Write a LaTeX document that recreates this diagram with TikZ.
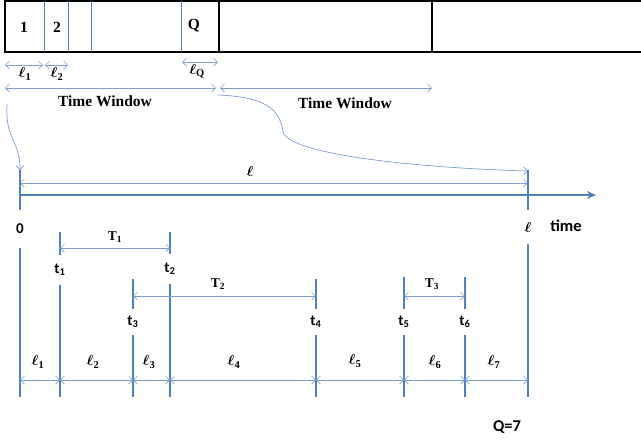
\documentclass[tikz,border=0pt]{standalone}
\usepackage{amsmath,amssymb,bm}
\usepackage{fontspec}
\setmainfont{Liberation Serif}
\newfontfamily\calfont{Carlito}
\usetikzlibrary{arrows.meta}
\definecolor{lineblue}{RGB}{79,129,189}
\definecolor{arrowblue}{RGB}{125,160,208}

\begin{document}
\begin{tikzpicture}[x=1pt,y=-1pt,
    tickline/.style={lineblue,line width=1.1pt},
    dimarrow/.style={arrowblue,line width=0.7pt,{Straight Barb[length=4pt,width=8pt]}-{Straight Barb[length=4pt,width=8pt]}},
    bendarrow/.style={arrowblue,line width=0.7pt,-{Straight Barb[length=4pt,width=8pt]}},
    serlbl/.style={font=\fontsize{15.5}{17}\selectfont\bfseries,inner sep=1pt},
    callbl/.style={font=\fontsize{15}{17}\selectfont\calfont\bfseries,inner sep=0pt},
    ellbl/.style={font=\fontsize{15}{17}\selectfont,inner sep=1pt}]
    \useasboundingbox (0,0) rectangle (641,440);

    % slot box on top
    \draw[line width=1.3pt] (650,1) -- (5,1) -- (5,52) -- (650,52);
    \draw[line width=1.3pt] (219,1) -- (219,52);
    \draw[line width=1.3pt] (432,1) -- (432,52);
    \draw[tickline,line width=0.9pt] (44,1) -- (44,52);
    \draw[tickline,line width=0.9pt] (68,1) -- (68,52);
    \draw[tickline,line width=0.9pt] (91,1) -- (91,52);
    \draw[tickline,line width=0.9pt] (181,1) -- (181,52);
    \node[serlbl] (s1) at (24,27) {1};
    \node[serlbl] (s2) at (57,27) {2};
    \node[serlbl] (sQ) at (194,26) {Q};

    % slot lengths
    \coordinate (a0) at (5,65);
    \coordinate (a1) at (43,65);
    \coordinate (a2) at (45,65);
    \coordinate (a3) at (68,65);
    \coordinate (aQ) at (182,62);
    \coordinate (aE) at (218,62);
    \draw[dimarrow] (a0) -- (a1);
    \draw[dimarrow] (a2) -- (a3);
    \draw[dimarrow] (aQ) -- (aE);
    \node[ellbl] (ls1) at (25,74) {$\bm{\ell}_{\mathbf{1}}$};
    \node[ellbl] (ls2) at (57,74) {$\bm{\ell}_{\mathbf{2}}$};
    \node[ellbl] (lsQ) at (197,71) {$\bm{\ell}_{\mathbf{Q}}$};

    % time windows
    \coordinate (w0) at (5,88);
    \coordinate (w1) at (216,88);
    \coordinate (w2) at (220,88);
    \coordinate (w3) at (432,88);
    \draw[dimarrow] (w0) -- (w1);
    \draw[dimarrow] (w2) -- (w3);
    \node[serlbl] (tw1) at (105,101) {Time Window};
    \node[serlbl] (tw2) at (345,103) {Time Window};

    % bent arrows to the axis
    \coordinate (c0) at (7,104);
    \coordinate (c1) at (20,170);
    \coordinate (c2) at (218,95);
    \coordinate (c3) at (528,171);
    \draw[bendarrow] (c0) .. controls (5,140) and (20,140) .. (c1);
    \draw[bendarrow] (c2) .. controls (270,97) and (280,112) .. (283,132)
        .. controls (290,155) and (420,168) .. (c3);

    % length of the whole window
    \coordinate (L0) at (20,183);
    \coordinate (L1) at (528,183);
    \draw[dimarrow] (L0) -- (L1);
    \node[ellbl] (lw) at (250,171) {$\bm{\ell}$};

    % time axis
    \coordinate (O) at (20,195);
    \coordinate (X) at (596,195);
    \draw[lineblue,line width=2pt,-{Stealth[length=9pt,width=8pt]}] (O) -- (X);
    \node[callbl,font=\fontsize{16.5}{18}\selectfont\calfont\bfseries] (tm) at (566,226) {time};

    % ticks
    \node[callbl,minimum height=38pt] (n0) at (20,229) {0};
    \node[ellbl,minimum height=33pt] (nl) at (528,227) {$\bm{\ell}$};
    \draw[tickline] (20,170) -- (n0) -- (20,397);
    \draw[tickline] (528,170) -- (nl) -- (528,397);
    \node[callbl,minimum height=30pt] (t1) at (60,270) {t\textsubscript{1}};
    \node[callbl,minimum height=30pt] (t2) at (170,269) {t\textsubscript{2}};
    \node[callbl,minimum height=26pt] (t3) at (133,322) {t\textsubscript{3}};
    \node[callbl,minimum height=26pt] (t4) at (316,322) {t\textsubscript{4}};
    \node[callbl,minimum height=26pt] (t5) at (404,322) {t\textsubscript{5}};
    \node[callbl,minimum height=26pt] (t6) at (465,322) {t\textsubscript{6}};
    \draw[tickline] (60,232) -- (t1) -- (60,397);
    \draw[tickline] (170,232) -- (t2) -- (170,397);
    \draw[tickline] (133,279) -- (t3) -- (133,397);
    \draw[tickline] (316,279) -- (t4) -- (316,397);
    \draw[tickline] (404,277) -- (t5) -- (404,397);
    \draw[tickline] (465,277) -- (t6) -- (465,397);

    % service times
    \draw[dimarrow] (60,248) -- (170,248);
    \draw[dimarrow] (133,296) -- (316,296);
    \draw[dimarrow] (404,296) -- (465,296);
    \node[serlbl,font=\fontsize{13.5}{15}\selectfont\bfseries] (T1) at (115,237) {T\textsubscript{1}};
    \node[serlbl,font=\fontsize{13.5}{15}\selectfont\bfseries] (T2) at (218,284) {T\textsubscript{2}};
    \node[serlbl,font=\fontsize{13.5}{15}\selectfont\bfseries] (T3) at (432,284) {T\textsubscript{3}};

    % gaps on the axis
    \coordinate (b0) at (20,380);
    \coordinate (b1) at (60,380);
    \coordinate (b2) at (133,380);
    \coordinate (b3) at (170,380);
    \coordinate (b4) at (316,380);
    \coordinate (b5) at (404,380);
    \coordinate (b6) at (465,380);
    \coordinate (b7) at (528,380);
    \draw[dimarrow] (b0) -- (b1);
    \draw[dimarrow] (b1) -- (b2);
    \draw[dimarrow] (b2) -- (b3);
    \draw[dimarrow] (b3) -- (b4);
    \draw[dimarrow] (b4) -- (b5);
    \draw[dimarrow] (b5) -- (b6);
    \draw[dimarrow] (b6) -- (b7);
    \node[ellbl] (l1) at (38,362) {$\bm{\ell}_{\mathbf{1}}$};
    \node[ellbl] (l2) at (93,362) {$\bm{\ell}_{\mathbf{2}}$};
    \node[ellbl] (l3) at (149,362) {$\bm{\ell}_{\mathbf{3}}$};
    \node[ellbl] (l4) at (234,362) {$\bm{\ell}_{\mathbf{4}}$};
    \node[ellbl] (l5) at (355,361) {$\bm{\ell}_{\mathbf{5}}$};
    \node[ellbl] (l6) at (435,362) {$\bm{\ell}_{\mathbf{6}}$};
    \node[ellbl] (l7) at (494,362) {$\bm{\ell}_{\mathbf{7}}$};

    \node[callbl,font=\fontsize{16.5}{18}\selectfont\calfont\bfseries] (qn) at (507,427) {Q=7};
\end{tikzpicture}
\end{document}
